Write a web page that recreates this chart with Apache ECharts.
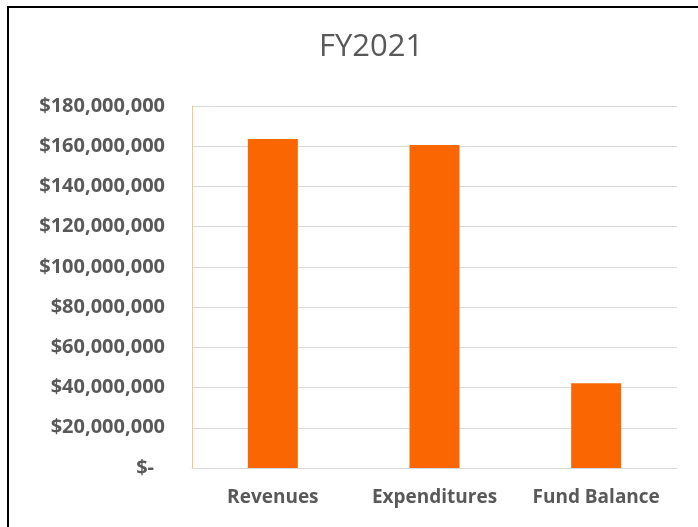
<!DOCTYPE html>
<html>
<head>
<meta charset="utf-8">
<script src="https://cdn.jsdelivr.net/npm/echarts@6/dist/echarts.min.js"></script>
<style>
html,body{margin:0;padding:0;background:#fff;}
#main{width:698px;height:527px;}
</style>
</head>
<body>
<div id="main"></div>
<script>
// FY2021 fund summary
var categories = ['Revenues', 'Expenditures', 'Fund Balance'];
var amounts = [163600000, 160600000, 42100000];
var yTicks = {min: 0, max: 180000000, step: 20000000};

var chart = echarts.init(document.getElementById('main'), null, {renderer: 'canvas'});
var textGray = '#595959';

function moneyLabel(v) {
    if (v === 0) {
        return '{z|$-}';
    }
    return '$' + v.toString().replace(/\B(?=(\d{3})+(?!\d))/g, ',');
}

var option = {
    backgroundColor: '#fff',
    animation: false,
    title: {
        text: 'FY2021',
        left: 366,
        top: 27,
        textAlign: 'center',
        textStyle: {
            fontFamily: 'Open Sans',
            fontWeight: 'normal',
            fontSize: 31,
            color: textGray
        }
    },
    graphic: [{
        type: 'rect',
        shape: {x: 8, y: 7, width: 760, height: 600},
        style: {fill: 'none', stroke: '#000', lineWidth: 2},
        silent: true
    }],
    grid: {
        left: 192,
        right: 21,
        top: 106,
        bottom: 59
    },
    xAxis: {
        type: 'category',
        data: categories,
        axisLine: {show: true, lineStyle: {color: '#d9d9d9', width: 1}},
        axisTick: {show: false},
        axisLabel: {
            interval: 0,
            hideOverlap: false,
            margin: 20,
            fontFamily: 'Open Sans',
            fontWeight: 'bold',
            fontSize: 19,
            color: textGray
        }
    },
    yAxis: {
        type: 'value',
        min: yTicks.min,
        max: yTicks.max,
        interval: yTicks.step,
        axisLine: {show: true, lineStyle: {color: '#ffc480', width: 1}},
        axisTick: {show: false},
        splitLine: {lineStyle: {color: '#d9d9d9', width: 1}},
        axisLabel: {
            margin: 27,
            fontFamily: 'Open Sans',
            fontWeight: 'bold',
            fontSize: 20,
            color: textGray,
            formatter: moneyLabel,
            rich: {
                z: {
                    fontFamily: 'Open Sans',
                    fontWeight: 'bold',
                    fontSize: 20,
                    color: textGray,
                    padding: [0, 11, 0, 0]
                }
            }
        }
    },
    series: [{
        type: 'bar',
        data: amounts,
        barWidth: 50,
        itemStyle: {color: '#fa6602'}
    }]
};
chart.setOption(option);
</script>
</body>
</html>
